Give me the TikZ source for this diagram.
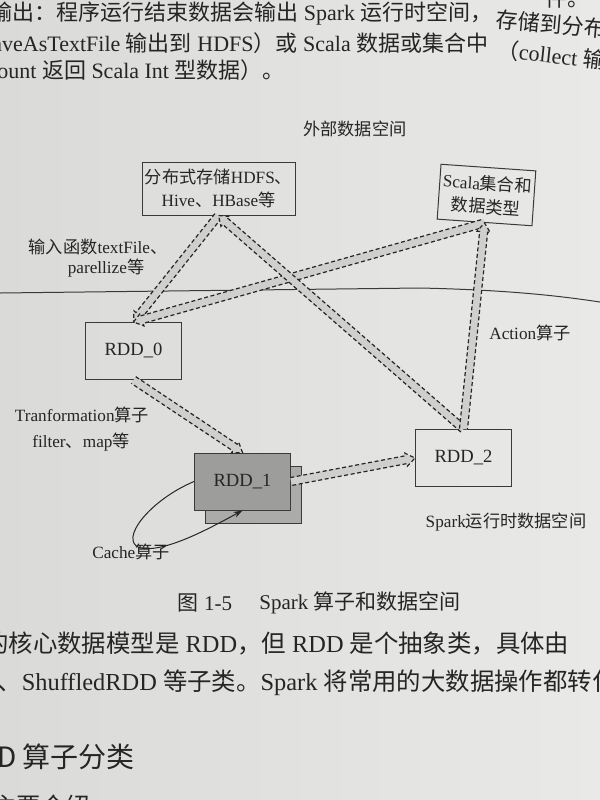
\documentclass[tikz,border=0pt]{standalone}
\usepackage{fontspec}
\setmainfont{Liberation Serif}
\newfontfamily\zh{Noto Sans CJK SC}
\usetikzlibrary{arrows.meta}
\usetikzlibrary{calc}
\usetikzlibrary{positioning}
\definecolor{paperl}{HTML}{DADAD8}
\definecolor{paperr}{HTML}{E9E9E7}
\definecolor{ink}{HTML}{252525}
\definecolor{rim}{HTML}{3A3A3A}
\definecolor{bandgray}{HTML}{CFCFCD}
\definecolor{rddfront}{HTML}{9D9D9B}
\definecolor{rddback}{HTML}{ABABA9}
\tikzset{box/.style = {draw=rim, line width=0.5pt, inner sep=0, align=center, text=ink, font=\fontsize{8.6}{11.5}\selectfont}}
\tikzset{rdd/.style = {box, minimum width=48pt, minimum height=28.5pt, font=\fontsize{9.3}{11}\selectfont}}
\tikzset{lbl/.style = {inner sep=0, text=ink, font=\fontsize{8.6}{11}\selectfont}}
\tikzset{body/.style = {inner sep=0, anchor=west, text=ink, font=\fontsize{11}{13}\selectfont}}
\tikzset{bodyb/.style = {body, font=\fontsize{12.2}{14}\selectfont}}
\tikzset{bandline/.style = {draw=ink, line width=0.6pt, dash pattern=on 2pt off 1.3pt}}

% hollow grey arrow with dashed rim
\newcommand\bandarrow[2]{%
  \path (#1) coordinate (fa) (#2) coordinate (fb) ($(fb)!4.5pt!(fa)$) coordinate (fh);
  \fill[bandgray] ($(fa)!2pt!90:(fb)$) -- ($(fh)!2pt!-90:(fa)$) -- ($(fh)!3.3pt!-90:(fa)$) -- (fb)
    -- ($(fh)!3.3pt!90:(fa)$) -- ($(fh)!2pt!90:(fa)$) -- ($(fa)!2pt!-90:(fb)$) -- cycle;
  \draw[bandline] ($(fa)!2pt!90:(fb)$) -- ($(fh)!2pt!-90:(fa)$) -- ($(fh)!3.3pt!-90:(fa)$) -- (fb)
    -- ($(fh)!3.3pt!90:(fa)$) -- ($(fh)!2pt!90:(fa)$) -- ($(fa)!2pt!-90:(fb)$);
}

\begin{document}
\begin{tikzpicture}[x=0.5pt, y=-0.5pt]
  \useasboundingbox (0, 0) rectangle (600, 800);
  \shade [left color=paperl, right color=paperr] (0, 0) rectangle (600, 800);

  % page text above
  \node [body] (prev) at (545, -2) {{\zh 件。}};
  \node [body] (line1) at (-10, 14) {{\zh 输出：程序运行结束数据会输出} Spark {\zh 运行时空间，}};
  \node [body, rotate=-5] (line1r) at (496, 19) {{\zh 存储到分布式}};
  \node [body] (line2) at (-8, 43) {aveAsTextFile {\zh 输出到} HDFS{\zh ）或} Scala {\zh 数据或集合中}};
  \node [body, rotate=-6] (line2r) at (497, 49) {{\zh （}collect {\zh 输出到}};
  \node [body] (line3) at (-3, 70) {ount {\zh 返回} Scala Int {\zh 型数据）。}};

  % the two spaces
  \node [lbl] (outer) at (355, 129) {{\zh 外部数据空间}};
  \draw [rim, line width=0.5pt] (0, 293) -- (420, 288) .. controls (510, 290) and (560, 296) .. (600, 302);
  \node [lbl] (sparkspace) at (506, 522) {Spark{\zh 运行时数据空间}};

  \node [box, minimum width=76.5pt, minimum height=26.5pt] (hdfs) at (218.5, 188.5) {{\zh 分布式存储}HDFS{\zh 、}\\Hive{\zh 、}HBase{\zh 等}};
  \node [box, minimum width=47.5pt, minimum height=27.5pt, rotate=-4] (scala) at (486.5, 195) {Scala{\zh 集合和}\\{\zh 数据类型}};

  \node [rdd] (rdd0) at (133.5, 351) {RDD\_0};
  \node [rdd, fill=rddback] (rdd1b) at (253.5, 494.5) {};
  \node [rdd, fill=rddfront] (rdd1) at (242.5, 481.5) {RDD\_1};
  \node [rdd] (rdd2) at (463.5, 458) {RDD\_2};

  \node [lbl] (input1) at (98, 247) {{\zh 输入函数}textFile{\zh 、}};
  \node [lbl] (input2) at (106, 268) {parellize{\zh 等}};
  \node [lbl] (trans1) at (82, 415) {Tranformation{\zh 算子}};
  \node [lbl] (trans2) at (81, 442) {filter{\zh 、}map{\zh 等}};
  \node [lbl] (action) at (530, 333) {Action{\zh 算子}};
  \node [lbl] (cache) at (131, 552) {Cache{\zh 算子}};

  \foreach \a/\b in {hdfs.south/rdd0.north, scala.south/rdd0.north, rdd0.south/rdd1.north,
                     rdd1.east/rdd2.west, rdd2.north/hdfs.south, rdd2.north/scala.south} {
    \bandarrow{\a}{\b}
  }

  \draw [ink, line width=0.5pt, -{Stealth[length=4.5pt, width=3pt]}] (rdd1.west)
    .. controls (150, 500) and (118, 540) .. (140, 548)
    .. controls (165, 553) and (210, 528) .. (rdd1.south);

  % caption and page text below
  \node [lbl, font=\fontsize{10.5}{12}\selectfont] (fignum) at (205, 603) {{\zh 图} 1-5};
  \node [lbl, font=\fontsize{10.5}{12}\selectfont] (figtitle) at (360, 603) {Spark {\zh 算子和数据空间}};
  \node [bodyb] (lineA) at (-16, 643) {{\zh 的核心数据模型是} RDD{\zh ，但} RDD {\zh 是个抽象类，具体由}};
  \node [bodyb] (lineB) at (-3, 683) {{\zh 、}ShuffledRDD {\zh 等子类。}Spark {\zh 将常用的大数据操作都转化成}};
  \node [bodyb, font=\zh\fontsize{14}{16}\selectfont] (heading) at (-3, 757) {D 算子分类};
  \node [bodyb] (lineC) at (-8, 806) {{\zh 主要介绍}};
\end{tikzpicture}
\end{document}
